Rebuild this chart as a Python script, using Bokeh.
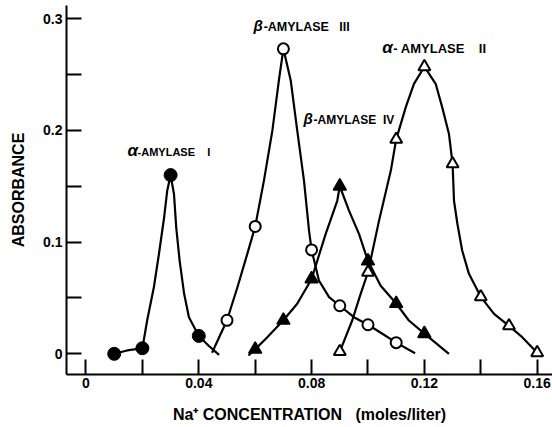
from bokeh.plotting import figure
from bokeh.models import FixedTicker, CustomJSTickFormatter, Label, Range1d
from bokeh.embed import file_html
from bokeh.resources import INLINE

# ---------------- data ----------------
# Na+ concentration (moles/liter) of the measured fractions
alpha1_x = [0.01, 0.02, 0.03, 0.04]
alpha1_y = [0.000, 0.005, 0.160, 0.016]

beta3_x = [0.05, 0.06, 0.07, 0.08, 0.09, 0.10, 0.11]
beta3_y = [0.030, 0.114, 0.273, 0.093, 0.043, 0.026, 0.010]

beta4_x = [0.06, 0.07, 0.08, 0.09, 0.10, 0.11, 0.12]
beta4_y = [0.004, 0.030, 0.067, 0.150, 0.083, 0.045, 0.018]

alpha2_x = [0.09, 0.10, 0.11, 0.12, 0.13, 0.14, 0.15, 0.16]
alpha2_y = [0.002, 0.073, 0.192, 0.257, 0.170, 0.051, 0.025, 0.001]

# hand-drawn smooth curves
alpha1_curve_x = [0.010, 0.0146, 0.020, 0.0217, 0.0241, 0.0259, 0.0277, 0.0288, 0.030,
                  0.0312, 0.0320, 0.0332, 0.0348, 0.0365, 0.040, 0.0436, 0.0472]
alpha1_curve_y = [0.000, 0.003, 0.005, 0.030, 0.060, 0.090, 0.122, 0.146, 0.160,
                  0.143, 0.113, 0.0835, 0.0537, 0.0328, 0.016, 0.007, -0.001]

beta3_curve_x = [0.0447, 0.050, 0.0537, 0.0572, 0.060, 0.0631, 0.0661, 0.0684, 0.070,
                 0.0726, 0.0749, 0.0773, 0.0791, 0.080, 0.0826, 0.0862, 0.090, 0.0950,
                 0.100, 0.1051, 0.110, 0.1167]
beta3_curve_y = [0.001, 0.030, 0.0596, 0.0895, 0.114, 0.155, 0.200, 0.2447, 0.273,
                 0.2447, 0.200, 0.155, 0.110, 0.093, 0.0656, 0.0507, 0.043, 0.0328,
                 0.026, 0.0179, 0.010, 0.0005]

beta4_curve_x = [0.0576, 0.060, 0.0643, 0.070, 0.0749, 0.080, 0.0850, 0.0891, 0.090,
                 0.0933, 0.0968, 0.100, 0.1045, 0.110, 0.1145, 0.120, 0.1287]
beta4_curve_y = [-0.0015, 0.004, 0.0149, 0.030, 0.0448, 0.067, 0.1074, 0.137, 0.150,
                 0.128, 0.1074, 0.083, 0.061, 0.045, 0.0298, 0.018, 0.000]

alpha2_curve_x = [0.090, 0.0944, 0.0974, 0.100, 0.1039, 0.1081, 0.110, 0.1134, 0.1163,
                  0.120, 0.1240, 0.1263, 0.1287, 0.130, 0.1305, 0.1317, 0.1334, 0.1358,
                  0.140, 0.1447, 0.150, 0.1547, 0.160]
alpha2_curve_y = [0.002, 0.0298, 0.0537, 0.073, 0.119, 0.164, 0.192, 0.2208, 0.2417,
                  0.257, 0.2417, 0.2208, 0.197, 0.170, 0.137, 0.1164, 0.0925, 0.0716,
                  0.051, 0.0358, 0.025, 0.0149, 0.001]

x_major = [0.0, 0.04, 0.08, 0.12, 0.16]
x_minor = [0.02, 0.06, 0.10, 0.14]
y_major = [0.0, 0.1, 0.2, 0.3]
y_minor = [0.05, 0.15, 0.25]

x_title = "Na\u207a CONCENTRATION\u00a0\u00a0\u00a0(moles/liter)"
y_title = "ABSORBANCE"

# ---------------- figure ----------------
FONT = "Liberation Sans"

p = figure(width=552, height=427, output_backend="svg", toolbar_location=None,
           x_range=Range1d(-0.006915, 0.16543), y_range=Range1d(-0.01853, 0.3118),
           min_border_left=66, min_border_right=0, min_border_top=5, min_border_bottom=53)
p.grid.visible = False
p.outline_line_color = None
p.background_fill_color = "white"
p.border_fill_color = "white"

fmt = CustomJSTickFormatter(code="return tick === 0 ? '0' : String(parseFloat(tick.toFixed(3)));")

p.xaxis.ticker = FixedTicker(ticks=x_major, minor_ticks=x_minor)
p.yaxis.ticker = FixedTicker(ticks=y_major, minor_ticks=y_minor)

for ax in (p.xaxis[0], p.yaxis[0]):
    ax.formatter = fmt
    ax.axis_line_width = 2
    ax.axis_line_color = "black"
    ax.major_tick_line_width = 2
    ax.minor_tick_line_width = 2
    ax.major_tick_line_color = "black"
    ax.minor_tick_line_color = "black"
    ax.major_tick_in = 15
    ax.major_tick_out = 0
    ax.minor_tick_in = 15
    ax.minor_tick_out = 0
    ax.major_label_text_font = FONT
    ax.major_label_text_font_style = "bold"
    ax.major_label_text_font_size = "14px"
    ax.major_label_text_color = "black"
    ax.axis_label_text_font = FONT
    ax.axis_label_text_font_style = "bold"
    ax.axis_label_text_font_size = "16px"
    ax.axis_label_text_color = "black"

p.xaxis.axis_label = x_title
p.yaxis.axis_label = y_title
p.xaxis.major_label_standoff = 3
p.xaxis.axis_label_standoff = 15
p.yaxis.major_label_standoff = 4
p.yaxis.axis_label_standoff = 13

# curves
for cx, cy in ((alpha1_curve_x, alpha1_curve_y), (beta3_curve_x, beta3_curve_y),
               (beta4_curve_x, beta4_curve_y), (alpha2_curve_x, alpha2_curve_y)):
    p.line(cx, cy, line_color="black", line_width=2.2, line_join="round")

# markers
p.scatter(alpha1_x, alpha1_y, marker="circle", size=13, fill_color="black", line_color="black")
p.scatter(beta3_x, beta3_y, marker="circle", size=11, fill_color="white", line_color="black", line_width=2)
p.scatter(beta4_x, beta4_y, marker="triangle", size=13, fill_color="black", line_color="black", line_width=1.5)
p.scatter(alpha2_x, alpha2_y, marker="triangle", size=12, fill_color="white", line_color="black", line_width=2)

# labels
def lab(x, y, text, size, style="bold"):
    p.add_layout(Label(x=x, y=y, text=text, text_font=FONT, text_font_size=size,
                       text_font_style=style, text_color="black",
                       text_baseline="middle", text_align="left"))

lab(0.0147, 0.182, "\u03b1", "17px", "bold italic")
lab(0.0183, 0.181, "-AMYLASE\u00a0\u00a0\u00a0\u00a0I", "11px")
lab(0.0594, 0.294, "\u03b2", "15px", "bold italic")
lab(0.0630, 0.293, "-AMYLASE\u00a0\u00a0\u00a0III", "12.5px")
lab(0.0771, 0.2105, "\u03b2", "15px", "bold italic")
lab(0.0807, 0.2095, "-AMYLASE\u00a0\u00a0IV", "12px")
lab(0.1051, 0.2746, "\u03b1", "17px", "bold italic")
lab(0.1090, 0.2736, "- AMYLASE\u00a0\u00a0\u00a0\u00a0II", "13px")

open("out.html", "w").write(file_html(p, INLINE))
